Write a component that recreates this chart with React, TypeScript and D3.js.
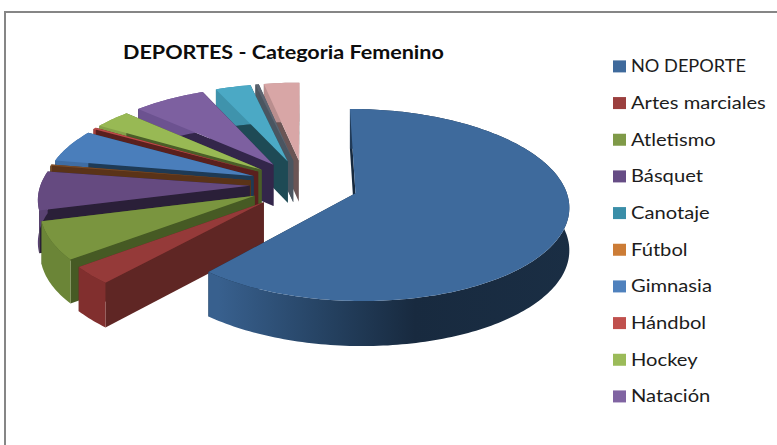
import React from "react";
import * as d3 from "d3";

const titleText = "DEPORTES - Categoria Femenino";
const categories = ["NO DEPORTE","Artes marciales","Atletismo","Básquet","Canotaje","Fútbol","Gimnasia","Hándbol","Hockey","Natación","Otros 1","Otros 2","Otros 3"];
const shares = [60.8,3.0,6.4,6.6,0.1,0.2,5.6,0.3,3.2,6.4,3.1,0.3,3.1];
const legendCount = 10;
const topColors = ["#3e6a9c","#953a39","#7a953f","#654a80","#3a8ea8","#7a4a24","#4a7ebb","#bd4b48","#98b954","#7d60a0","#4ba9c5","#5c6470","#d8a6a6"];
const wallColors = ["#16293e","#5f2624","#465a24","#2a1f38","#1c3c4c","#5a3318","#1e3a55","#5a201e","#4a5e28","#33264a","#1e4a55","#4a5560","#6b5555"];
const rimColors = ["#2a4565","#812f2e","#6b8537","#5a4272","#2f7a90","#a9682e","#3f6da3","#a5403d","#84a048","#6c5290","#3f93ac","#4f5760","#b98e8e"];
const legendColors = ["#3f6a9c","#9b3f3e","#7f9a48","#664c85","#3a8ea8","#cc7c36","#4f81bd","#c0504d","#9bbb59","#8064a2"];

const cx = 304, cy = 184.5, R = 209, ry = 92.5, persp = 0.12, depth = 42, explodeX = 0.26, explodeY = 0.27;

const pieGen = d3.pie<number>().sort(null).startAngle(0).endAngle(2 * Math.PI);
const arcs = pieGen(shares);

type P = [number, number];
const project = (x: number, y: number, down = 0): P => {
  const w = 1 / (1 - persp * y);
  return [cx + R * x * w, cy + ry * y * w + down * Math.sqrt(w)];
};
const pathOf = d3.line<P>();

function slicePaths(a0: number, a1: number) {
  const mid = (a0 + a1) / 2;
  const ox = explodeX * Math.sin(mid), oy = -explodeY * Math.cos(mid);
  const rim = (a: number, down = 0) => project(ox + Math.sin(a), oy - Math.cos(a), down);
  const steps = Math.max(2, Math.ceil((a1 - a0) / 0.02));
  const angles = d3.range(steps + 1).map((i) => a0 + ((a1 - a0) * i) / steps);
  const apex = project(ox, oy), apexLow = project(ox, oy, depth);
  const top = pathOf([apex, ...angles.map((a) => rim(a))])! + "Z";
  const outer = pathOf([...angles.map((a) => rim(a)), ...angles.slice().reverse().map((a) => rim(a, depth))])! + "Z";
  const startWall = pathOf([apex, rim(a0), rim(a0, depth), apexLow])! + "Z";
  const endWall = pathOf([apex, rim(a1), rim(a1, depth), apexLow])! + "Z";
  return { top, outer, startWall, endWall };
}

// back to front; the Fútbol sliver overlaps Canotaje
const order = [12, 11, 10, 9, 8, 7, 6, 4, 5, 3, 2, 1, 0];

export default function App() {
  const blueX0 = project(explodeX * 0.94 + Math.sin(arcs[0].endAngle), 0)[0];
  const blueX1 = cx + R * 1.3;
  return (
    <svg width={777} height={445} style={{ position: "absolute", left: 0, top: 0, background: "#fff" }}>
      <defs>
        <linearGradient id="blueRim" gradientUnits="userSpaceOnUse" x1={blueX0} x2={blueX1} y1={0} y2={0}>
          <stop offset="0" stopColor="#38608e" />
          <stop offset="0.32" stopColor="#24405f" />
          <stop offset="0.55" stopColor="#182a3f" />
          <stop offset="1" stopColor="#1a2e44" />
        </linearGradient>
      </defs>
      <path d="M5,445V12H777" fill="none" stroke="#868686" strokeWidth={2} />
      <text transform="translate(123,59) scale(1.135,1)" fontFamily="Lato" fontWeight={700} fontSize={19} fill="#0d0d0d">{titleText}</text>
      {order.map((i) => {
        const p = slicePaths(arcs[i].startAngle, arcs[i].endAngle);
        return (
          <g key={i}>
            <path d={p.endWall} fill={wallColors[i]} />
            <path d={p.startWall} fill={wallColors[i]} />
            <path d={p.outer} fill={i === 0 ? "url(#blueRim)" : rimColors[i]} />
            <path d={p.top} fill={topColors[i]} />
          </g>
        );
      })}
      {categories.slice(0, legendCount).map((c, i) => {
        const y = 66.4 + i * 36.67;
        const stretch = c === c.toUpperCase() ? 1.01 : 1.12;
        return (
          <g key={c}>
            <rect x={613} y={y - 6} width={13} height={12} fill={legendColors[i]} />
            <text transform={`translate(631,${y + 6}) scale(${stretch},1)`} fontFamily="Lato" fontSize={18} fill="#1c1c1c">{c}</text>
          </g>
        );
      })}
    </svg>
  );
}
